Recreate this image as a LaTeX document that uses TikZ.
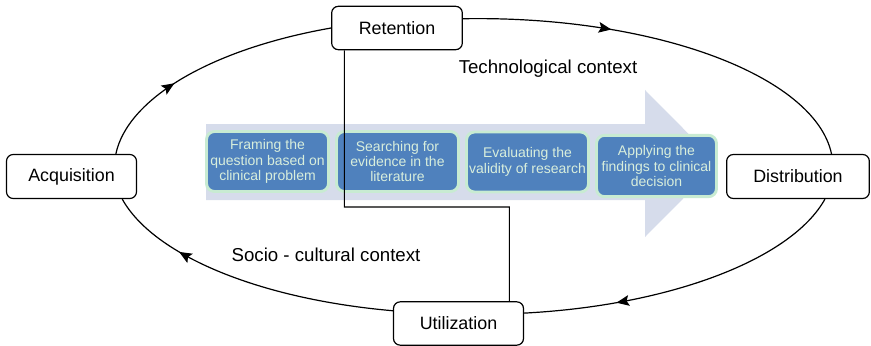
\documentclass[tikz,border=0pt]{standalone}
\usepackage{fontspec}
\setmainfont{Liberation Sans}
\usepackage{tikz}
\usetikzlibrary{arrows.meta,decorations.markings}

\definecolor{bandcol}{HTML}{D6DCEB}
\definecolor{stepfill}{HTML}{4F81BD}
\definecolor{stepline}{HTML}{C8EBD2}
\definecolor{steptext}{HTML}{D8EEDC}

\begin{document}
\begin{tikzpicture}[x=0.75pt,y=0.75pt,
    box/.style={draw, rounded corners=5pt, fill=white, line width=0.9pt,
      font=\fontsize{13.4}{16}\selectfont, minimum height=32.5pt},
    stepbox/.style={draw=stepline, fill=stepfill, text=steptext, line width=2.2pt,
      rounded corners=6pt, align=center, inner sep=1pt,
      minimum width=91.5pt, minimum height=45pt,
      font=\fontsize{10.5}{11.6}\selectfont},
    ctx/.style={font=\fontsize{14}{16}\selectfont},
    flow/.style={line width=0.9pt, postaction={decorate},
      decoration={markings, mark=at position #1 with
        {\arrow{Stealth[length=9.5pt,width=8pt,inset=1.8pt]}}}}]
  \useasboundingbox (0,0) rectangle (871,-346);

  % the shaded process arrow
  \fill[bandcol] (206,-124) -- (645,-124) -- (645,-90) -- (718,-163.5)
    -- (645,-237) -- (645,-200) -- (206,-200) -- cycle;

  \node[stepbox] at (267.5,-161.5) (S1) {Framing the\\question based on\\clinical problem};
  \node[stepbox] at (397.5,-161.5) (S2) {Searching for\\evidence in the\\literature};
  \node[stepbox] at (527.5,-162) (S3) {Evaluating the\\validity of research};
  \node[stepbox, minimum width=90pt, minimum height=46pt] at (656.5,-166) (S4) {Applying the\\findings to clinical\\decision};

  \node[box, minimum width=98pt] at (397,-28) (Ret) {Retention};
  \node[box, minimum width=97.5pt, minimum height=33pt] at (71.5,-176.5) (Acq) {Acquisition};
  \node[box, minimum width=107pt, minimum height=33pt] at (798,-176.5) (Dist) {Distribution};
  \node[box, minimum width=97.5pt] at (458.5,-323.5) (Util) {Utilization};

  \node[ctx] at (548,-69) (Tech) {Technological context};
  \node[ctx] at (326,-255) (Soc) {Socio - cultural context};

  \coordinate (turn) at (509.3,-207);
  \draw[line width=0.8pt] ([xshift=10pt]Ret.south west) |- (turn) -- ([xshift=-11pt]Util.north east);

  \draw[flow=0.36] (Acq.27) to[out=78, in=190, out distance=41.8pt, in distance=93pt] (Ret.west);
  \draw[flow=0.36] (Ret.8) to[out=1, in=102, out distance=143pt, in distance=60pt] (Dist.34);
  \draw[flow=0.72] (Dist.320) to[out=241, in=3, out distance=51pt, in distance=111pt] (Util.9);
  \draw[flow=0.74] (Util.169) to[out=175, in=299, out distance=102pt, in distance=47.5pt] (Acq.336);
\end{tikzpicture}
\end{document}
